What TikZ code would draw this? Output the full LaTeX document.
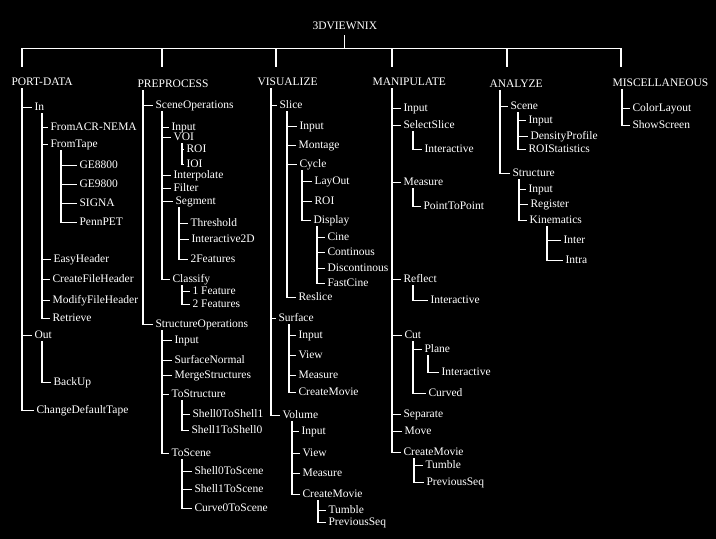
\documentclass[tikz,border=0pt]{standalone}
\usepackage{fontspec}
\setmainfont{Liberation Serif}
\begin{document}
\begin{tikzpicture}[x=1pt, y=-1pt, line width=1.1pt,
  lbl/.style={anchor=west, inner sep=0pt, text=white, text height=8pt, text depth=2.5pt,
              yshift=-2.5pt, font=\fontsize{11.5}{13}\selectfont},
  branch/.style={draw=white, shorten >=2pt}]

  %% ════ 背景（黑底）════
  \fill[black] (0,0) rectangle (716,539);

  %% ════ 根与一级标题 ════
  \node[lbl] (root) at (312,24) {3DVIEWNIX};
  \node[lbl] (port) at (11,80)  {PORT-DATA};
  \node[lbl] (pre)  at (137,82) {PREPROCESS};
  \node[lbl] (vis)  at (257,80) {VISUALIZE};
  \node[lbl] (man)  at (372,80) {MANIPULATE};
  \node[lbl] (ana)  at (489,82) {ANALYZE};
  \node[lbl] (misc) at (612,81) {MISCELLANEOUS};

  %% ════ PORT-DATA 分支 ════
  \node[lbl] (in)     at (34,105)  {In};
  \node[lbl] (acr)    at (50,125)  {FromACR-NEMA};
  \node[lbl] (tape)   at (50,142)  {FromTape};
  \node[lbl] (ge88)   at (79,163)  {GE8800};
  \node[lbl] (ge98)   at (79,182)  {GE9800};
  \node[lbl] (signa)  at (79,201)  {SIGNA};
  \node[lbl] (penn)   at (79,220)  {PennPET};
  \node[lbl] (easy)   at (53,257)  {EasyHeader};
  \node[lbl] (cfh)    at (52,277)  {CreateFileHeader};
  \node[lbl] (mfh)    at (52,298)  {ModifyFileHeader};
  \node[lbl] (retr)   at (52,316)  {Retrieve};
  \node[lbl] (out)    at (34,333)  {Out};
  \node[lbl] (backup) at (53,380)  {BackUp};
  \node[lbl] (cdt)    at (36,408)  {ChangeDefaultTape};

  %% ════ PREPROCESS 分支 ════
  \node[lbl] (sceneop)  at (155,103) {SceneOperations};
  \node[lbl] (pinput)   at (171,125) {Input};
  \node[lbl] (voi)      at (173,135) {VOI};
  \node[lbl] (roi)      at (186,147) {ROI};
  \node[lbl] (ioi)      at (186,162) {IOI};
  \node[lbl] (interp)   at (173,173) {Interpolate};
  \node[lbl] (filter)   at (173,186) {Filter};
  \node[lbl] (segment)  at (175,199) {Segment};
  \node[lbl] (thresh)   at (190,221) {Threshold};
  \node[lbl] (inter2d)  at (191,237) {Interactive2D};
  \node[lbl] (twof)     at (190,257) {2Features};
  \node[lbl] (classify) at (172,277) {Classify};
  \node[lbl] (onef)     at (192,289) {1 Feature};
  \node[lbl] (twofs)    at (192,302) {2 Features};
  \node[lbl] (structop) at (155,322) {StructureOperations};
  \node[lbl] (sinput)   at (174,338) {Input};
  \node[lbl] (snorm)    at (174,358) {SurfaceNormal};
  \node[lbl] (merge)    at (174,373) {MergeStructures};
  \node[lbl] (tostruct) at (171,392) {ToStructure};
  \node[lbl] (s01)      at (192,412) {Shell0ToShell1};
  \node[lbl] (s10)      at (191,428) {Shell1ToShell0};
  \node[lbl] (toscene)  at (171,451) {ToScene};
  \node[lbl] (s0sc)     at (194,469) {Shell0ToScene};
  \node[lbl] (s1sc)     at (194,487) {Shell1ToScene};
  \node[lbl] (c0sc)     at (194,506) {Curve0ToScene};

  %% ════ VISUALIZE 分支 ════
  \node[lbl] (slice)    at (279,103) {Slice};
  \node[lbl] (vinput)   at (299,124) {Input};
  \node[lbl] (montage)  at (298,143) {Montage};
  \node[lbl] (cycle)    at (299,162) {Cycle};
  \node[lbl] (layout)   at (314,179) {LayOut};
  \node[lbl] (vroi)     at (314,199) {ROI};
  \node[lbl] (display)  at (313,218) {Display};
  \node[lbl] (cine)     at (327,235) {Cine};
  \node[lbl] (cont)     at (327,250) {Continous};
  \node[lbl] (discont)  at (327,266) {Discontinous};
  \node[lbl] (fastcine) at (327,281) {FastCine};
  \node[lbl] (reslice)  at (298,295) {Reslice};
  \node[lbl] (surface)  at (278,316) {Surface};
  \node[lbl] (sfinput)  at (298,333) {Input};
  \node[lbl] (sfview)   at (298,353) {View};
  \node[lbl] (sfmeas)   at (298,373) {Measure};
  \node[lbl] (sfmovie)  at (298,390) {CreateMovie};
  \node[lbl] (volume)   at (282,413) {Volume};
  \node[lbl] (vlinput)  at (301,429) {Input};
  \node[lbl] (vlview)   at (302,451) {View};
  \node[lbl] (vlmeas)   at (302,471) {Measure};
  \node[lbl] (vlmovie)  at (302,492) {CreateMovie};
  \node[lbl] (vltumble) at (328,508) {Tumble};
  \node[lbl] (vlprev)   at (328,520) {PreviousSeq};

  %% ════ MANIPULATE 分支 ════
  \node[lbl] (minput)   at (403,106) {Input};
  \node[lbl] (selslice) at (403,123) {SelectSlice};
  \node[lbl] (ssinter)  at (424,147) {Interactive};
  \node[lbl] (measure)  at (403,180) {Measure};
  \node[lbl] (p2p)      at (423,204) {PointToPoint};
  \node[lbl] (reflect)  at (403,277) {Reflect};
  \node[lbl] (rfinter)  at (430,298) {Interactive};
  \node[lbl] (cut)      at (404,333) {Cut};
  \node[lbl] (plane)    at (424,347) {Plane};
  \node[lbl] (plinter)  at (441,370) {Interactive};
  \node[lbl] (curved)   at (428,391) {Curved};
  \node[lbl] (separate) at (403,412) {Separate};
  \node[lbl] (move)     at (404,429) {Move};
  \node[lbl] (mmovie)   at (403,450) {CreateMovie};
  \node[lbl] (mtumble)  at (425,463) {Tumble};
  \node[lbl] (mprev)    at (426,480) {PreviousSeq};

  %% ════ ANALYZE 分支 ════
  \node[lbl] (scene)     at (510,104) {Scene};
  \node[lbl] (ainput)    at (528,118) {Input};
  \node[lbl] (dprof)     at (530,134) {DensityProfile};
  \node[lbl] (roistat)   at (528,147) {ROIStatistics};
  \node[lbl] (structure) at (512,171) {Structure};
  \node[lbl] (stinput)   at (528,187) {Input};
  \node[lbl] (register)  at (530,202) {Register};
  \node[lbl] (kinem)     at (529,218) {Kinematics};
  \node[lbl] (inter)     at (563,238) {Inter};
  \node[lbl] (intra)     at (565,258) {Intra};

  %% ════ MISCELLANEOUS 分支 ════
  \node[lbl] (colorl)  at (632,106) {ColorLayout};
  \node[lbl] (showscr) at (632,123) {ShowScreen};

  %% ════ 顶部横杠 ════
  \coordinate (bar) at ([yshift=-16pt]root.south);
  \coordinate (porttop) at ([xshift=11pt,yshift=10pt]port.north west);
  \coordinate (pretop)  at ([xshift=25pt,yshift=12pt]pre.north west);
  \coordinate (vistop)  at ([xshift=19pt,yshift=10pt]vis.north west);
  \coordinate (mantop)  at ([xshift=20pt,yshift=10pt]man.north west);
  \coordinate (anatop)  at ([xshift=18pt,yshift=12pt]ana.north west);
  \coordinate (misctop) at ([xshift=9pt,yshift=11pt]misc.north west);
  \draw[white] ([yshift=-3pt]root.south) -- (bar);
  \draw[white] (porttop |- bar) -- (misctop |- bar);
  \draw[white] (porttop) -- (porttop |- bar);
  \draw[white] (pretop) -- (pretop |- bar);
  \draw[white] (vistop) -- (vistop |- bar);
  \draw[white] (mantop) -- (mantop |- bar);
  \draw[white] (anatop) -- (anatop |- bar);
  \draw[white] (misctop) -- (misctop |- bar);

  %% ════ 连线：PORT-DATA ════
  \draw[branch] ([xshift=11pt]port.south west) |- (in.west);
  \draw[branch] ([xshift=11pt]port.south west) |- (out.west);
  \draw[branch] ([xshift=11pt]port.south west) |- (cdt.west);
  \draw[branch] ([xshift=8pt]in.south west) |- (acr.west);
  \draw[branch] ([xshift=8pt]in.south west) |- (tape.west);
  \draw[branch] ([xshift=8pt]in.south west) |- (easy.west);
  \draw[branch] ([xshift=8pt]in.south west) |- (cfh.west);
  \draw[branch] ([xshift=8pt]in.south west) |- (mfh.west);
  \draw[branch] ([xshift=8pt]in.south west) |- (retr.west);
  \draw[branch] ([xshift=11pt]tape.south west) |- (ge88.west);
  \draw[branch] ([xshift=11pt]tape.south west) |- (ge98.west);
  \draw[branch] ([xshift=11pt]tape.south west) |- (signa.west);
  \draw[branch] ([xshift=11pt]tape.south west) |- (penn.west);
  \draw[branch] ([xshift=8pt]out.south west) |- (backup.west);

  %% ════ 连线：PREPROCESS ════
  \draw[branch] ([xshift=6pt]pre.south west) |- (sceneop.west);
  \draw[branch] ([xshift=6pt]pre.south west) |- (structop.west);
  \draw[branch] ([xshift=7pt]sceneop.south west) |- (pinput.west);
  \draw[branch] ([xshift=7pt]sceneop.south west) |- (voi.west);
  \draw[branch] ([xshift=7pt]sceneop.south west) |- (interp.west);
  \draw[branch] ([xshift=7pt]sceneop.south west) |- (filter.west);
  \draw[branch] ([xshift=7pt]sceneop.south west) |- (segment.west);
  \draw[branch] ([xshift=7pt]sceneop.south west) |- (classify.west);
  \draw[branch] ([xshift=9pt]voi.south west) |- (roi.west);
  \draw[branch] ([xshift=9pt]voi.south west) |- (ioi.west);
  \draw[branch] ([xshift=4pt]segment.south west) |- (thresh.west);
  \draw[branch] ([xshift=4pt]segment.south west) |- (inter2d.west);
  \draw[branch] ([xshift=4pt]segment.south west) |- (twof.west);
  \draw[branch] ([xshift=10pt]classify.south west) |- (onef.west);
  \draw[branch] ([xshift=10pt]classify.south west) |- (twofs.west);
  \draw[branch] ([xshift=7pt]structop.south west) |- (sinput.west);
  \draw[branch] ([xshift=7pt]structop.south west) |- (snorm.west);
  \draw[branch] ([xshift=7pt]structop.south west) |- (merge.west);
  \draw[branch] ([xshift=7pt]structop.south west) |- (tostruct.west);
  \draw[branch] ([xshift=7pt]structop.south west) |- (toscene.west);
  \draw[branch] ([xshift=11pt]tostruct.south west) |- (s01.west);
  \draw[branch] ([xshift=11pt]tostruct.south west) |- (s10.west);
  \draw[branch] ([xshift=11pt]toscene.south west) |- (s0sc.west);
  \draw[branch] ([xshift=11pt]toscene.south west) |- (s1sc.west);
  \draw[branch] ([xshift=11pt]toscene.south west) |- (c0sc.west);

  %% ════ 连线：VISUALIZE ════
  \draw[branch] ([xshift=14pt]vis.south west) |- (slice.west);
  \draw[branch] ([xshift=14pt]vis.south west) |- (surface.west);
  \draw[branch] ([xshift=14pt]vis.south west) |- (volume.west);
  \draw[branch] ([xshift=8pt]slice.south west) |- (vinput.west);
  \draw[branch] ([xshift=8pt]slice.south west) |- (montage.west);
  \draw[branch] ([xshift=8pt]slice.south west) |- (cycle.west);
  \draw[branch] ([xshift=8pt]slice.south west) |- (reslice.west);
  \draw[branch] ([xshift=3pt]cycle.south west) |- (layout.west);
  \draw[branch] ([xshift=3pt]cycle.south west) |- (vroi.west);
  \draw[branch] ([xshift=3pt]cycle.south west) |- (display.west);
  \draw[branch] ([xshift=4pt]display.south west) |- (cine.west);
  \draw[branch] ([xshift=4pt]display.south west) |- (cont.west);
  \draw[branch] ([xshift=4pt]display.south west) |- (discont.west);
  \draw[branch] ([xshift=4pt]display.south west) |- (fastcine.west);
  \draw[branch] ([xshift=11pt]surface.south west) |- (sfinput.west);
  \draw[branch] ([xshift=11pt]surface.south west) |- (sfview.west);
  \draw[branch] ([xshift=11pt]surface.south west) |- (sfmeas.west);
  \draw[branch] ([xshift=11pt]surface.south west) |- (sfmovie.west);
  \draw[branch] ([xshift=10pt]volume.south west) |- (vlinput.west);
  \draw[branch] ([xshift=10pt]volume.south west) |- (vlview.west);
  \draw[branch] ([xshift=10pt]volume.south west) |- (vlmeas.west);
  \draw[branch] ([xshift=10pt]volume.south west) |- (vlmovie.west);
  \draw[branch] ([xshift=16pt]vlmovie.south west) |- (vltumble.west);
  \draw[branch] ([xshift=16pt]vlmovie.south west) |- (vlprev.west);

  %% ════ 连线：MANIPULATE ════
  \draw[branch] ([xshift=20pt]man.south west) |- (minput.west);
  \draw[branch] ([xshift=20pt]man.south west) |- (selslice.west);
  \draw[branch] ([xshift=20pt]man.south west) |- (measure.west);
  \draw[branch] ([xshift=20pt]man.south west) |- (reflect.west);
  \draw[branch] ([xshift=20pt]man.south west) |- (cut.west);
  \draw[branch] ([xshift=20pt]man.south west) |- (separate.west);
  \draw[branch] ([xshift=20pt]man.south west) |- (move.west);
  \draw[branch] ([xshift=20pt]man.south west) |- (mmovie.west);
  \draw[branch] ([xshift=10pt]selslice.south west) |- (ssinter.west);
  \draw[branch] ([xshift=10pt]measure.south west) |- (p2p.west);
  \draw[branch] ([xshift=10pt]reflect.south west) |- (rfinter.west);
  \draw[branch] ([xshift=9pt]cut.south west) |- (plane.west);
  \draw[branch] ([xshift=9pt]cut.south west) |- (curved.west);
  \draw[branch] ([xshift=4pt]plane.south west) |- (plinter.west);
  \draw[branch] ([xshift=11pt]mmovie.south west) |- (mtumble.west);
  \draw[branch] ([xshift=11pt]mmovie.south west) |- (mprev.west);

  %% ════ 连线：ANALYZE ════
  \draw[branch] ([xshift=11pt]ana.south west) |- (scene.west);
  \draw[branch] ([xshift=11pt]ana.south west) |- (structure.west);
  \draw[branch] ([xshift=8pt]scene.south west) |- (ainput.west);
  \draw[branch] ([xshift=8pt]scene.south west) |- (dprof.west);
  \draw[branch] ([xshift=8pt]scene.south west) |- (roistat.west);
  \draw[branch] ([xshift=7pt]structure.south west) |- (stinput.west);
  \draw[branch] ([xshift=7pt]structure.south west) |- (register.west);
  \draw[branch] ([xshift=7pt]structure.south west) |- (kinem.west);
  \draw[branch] ([xshift=18pt]kinem.south west) |- (inter.west);
  \draw[branch] ([xshift=18pt]kinem.south west) |- (intra.west);

  %% ════ 连线：MISCELLANEOUS ════
  \draw[branch] ([xshift=10pt]misc.south west) |- (colorl.west);
  \draw[branch] ([xshift=10pt]misc.south west) |- (showscr.west);

  % 钉死画布
  \pgfresetboundingbox
  \path[use as bounding box] (0,0) rectangle (716,539);
\end{tikzpicture}
\end{document}
